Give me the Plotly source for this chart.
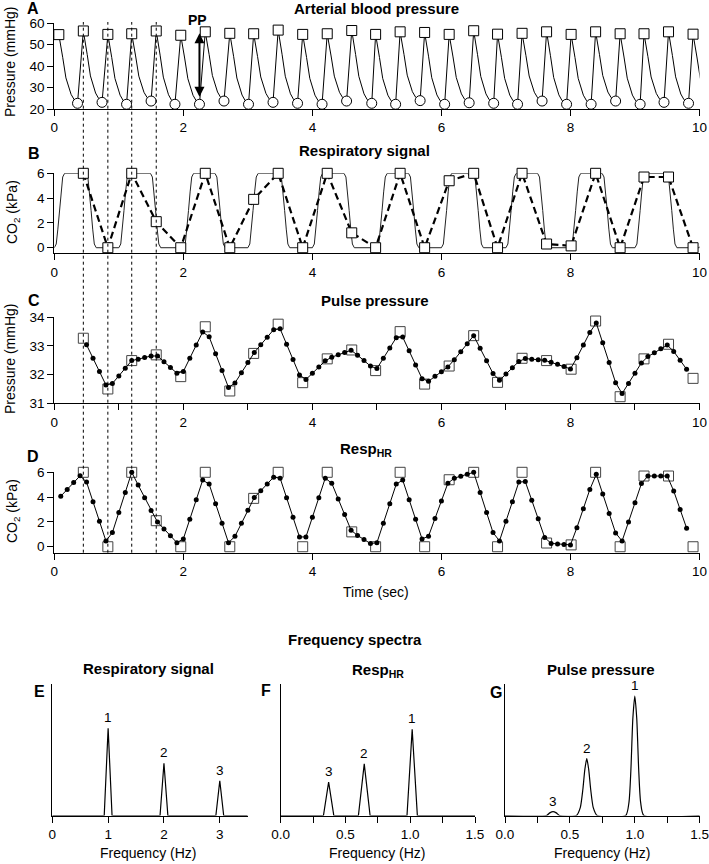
import plotly.graph_objects as go

W, H = 709, 864

# ---- heart beats: peak times (s), systolic peaks and diastolic troughs (mmHg) ----
BEAT_T = [0.07, 0.45, 0.83, 1.20, 1.58, 1.96, 2.34, 2.72, 3.09, 3.47, 3.85, 4.23, 4.61,
          4.98, 5.36, 5.74, 6.12, 6.50, 6.87, 7.25, 7.63, 8.01, 8.39, 8.77, 9.14, 9.52, 9.90]
SYS = [54.6, 56.3, 54.7, 55.0, 56.3, 54.3, 55.9, 55.2, 55.0, 56.7, 54.7, 55.0, 56.5,
       54.7, 55.9, 55.6, 54.7, 56.4, 54.8, 55.2, 55.9, 54.7, 55.9, 55.0, 55.0, 55.9, 54.8]
TROUGH_T = [0.36, 0.74, 1.12, 1.50, 1.87, 2.25, 2.63, 3.01, 3.39, 3.77, 4.15, 4.53, 4.92,
            5.29, 5.67, 6.05, 6.43, 6.81, 7.18, 7.56, 7.94, 8.32, 8.70, 9.08, 9.45, 9.83]
DIA = [22.65, 23.1, 22.2, 23.7, 22.2, 22.2, 23.7, 22.2, 23.1, 22.65, 22.2, 23.7, 22.65,
       22.2, 23.9, 22.2, 22.9, 22.65, 22.2, 23.7, 22.2, 22.2, 23.7, 22.2, 23.1, 22.65]
# shape of the pressure fall after a peak: s after peak, fraction of (peak - trough)
FALL_DT = [0.0, 0.03, 0.06, 0.11, 0.15, 0.19, 0.24]
FALL_FR = [1.0, 0.86, 0.67, 0.37, 0.23, 0.13, 0.05]

# ---- respiratory CO2 (kPa): one breath (s from breath start), one breath per second ----
BREATH_DT = [0.00, 0.03, 0.055, 0.08, 0.105, 0.13, 0.16, 0.49, 0.52, 0.545, 0.57, 0.595, 0.62, 0.65]
BREATH_CO2 = [0.0, 0.3, 1.5, 3.0, 4.5, 5.7, 6.0, 6.0, 5.7, 4.5, 3.0, 1.5, 0.3, 0.0]
N_BREATHS = 11

# values picked at beats 1..26
CO2_AT_BEAT = [6, 0, 6, 2.1, 0, 6, 0, 3.9, 6, 0, 6, 1.2, 0, 6, 0, 5.4, 6, 0, 6, 0.3, 0.15,
               6, 0, 5.7, 5.7, 0]
PP_AT_BEAT = [33.27, 31.5, 32.49, 32.69, 31.93, 33.67, 31.43, 32.74, 33.76, 31.72, 32.55,
              32.86, 32.14, 33.5, 31.67, 32.3, 33.36, 31.73, 32.57, 32.49, 32.19, 33.87,
              31.23, 32.55, 33.06, 31.87]

# 10 Hz resampled series
PP_T0 = 0.5
PP_10HZ = [33.04, 32.57, 32.11, 31.64, 31.69, 31.95, 32.22, 32.49, 32.54, 32.60, 32.65,
           32.65, 32.45, 32.25, 32.05, 32.11, 32.57, 33.03, 33.49, 33.32, 32.73, 32.14, 31.55,
           31.71, 32.07, 32.42, 32.77, 33.04, 33.30, 33.57, 33.60, 33.06, 32.53, 31.99,
           31.83, 32.05, 32.27, 32.48, 32.61, 32.69, 32.77, 32.85, 32.68, 32.49, 32.30,
           32.21, 32.57, 32.93, 33.29, 33.31, 32.83, 32.34, 31.86, 31.77, 31.94, 32.10, 32.27,
           32.52, 32.80, 33.08, 33.36, 32.92, 32.48, 32.04, 31.80, 32.02, 32.24, 32.46,
           32.56, 32.54, 32.52, 32.50, 32.43, 32.36, 32.28, 32.20, 32.59, 33.03, 33.47,
           33.80, 33.11, 32.42, 31.72, 31.34, 31.69, 32.05, 32.41, 32.63, 32.76, 32.90, 33.03,
           32.81, 32.50, 32.19]
HR_T0 = 0.1
RESP_HR_10HZ = [4.07, 4.62, 5.17, 5.72, 5.21, 3.63, 2.05, 0.47, 1.14, 2.76, 4.38, 6.0,
                4.97, 3.95, 2.92, 1.99, 1.44, 0.88, 0.33, 0.63, 2.21, 3.79, 5.37, 5.05, 3.47,
                1.89, 0.32, 0.84, 1.90, 2.95, 3.96, 4.51, 5.06, 5.61, 5.53, 3.95, 2.37, 0.79,
                0.79, 2.37, 3.95, 5.53, 5.12, 3.85, 2.59, 1.33, 0.91, 0.58, 0.26, 0.32, 1.89,
                3.47, 5.05, 5.37, 3.79, 2.21, 0.63, 0.85, 2.27, 3.69, 5.12, 5.53, 5.68, 5.84,
                6.0, 4.38, 2.76, 1.14, 0.47, 2.05, 3.63, 5.21, 5.25, 3.75, 2.25, 0.75, 0.27,
                0.23, 0.19, 0.15, 1.54, 3.07, 4.61, 5.84, 4.26, 2.68, 1.11, 0.46, 2.00, 3.54,
                5.09, 5.7, 5.7, 5.7, 5.7, 4.5, 3.0, 1.5]

# ---- frequency spectra (relative power) ----
E_F = [0, 0.93, 1.0, 1.07, 1.93, 2.0, 2.07, 2.93, 3.0, 3.07, 3.5]
E_P = [0, 0, 0.665, 0, 0, 0.398, 0, 0, 0.265, 0, 0]
F_F = [0, 0.33, 0.37, 0.41, 0.60, 0.645, 0.69, 0.975, 1.015, 1.055, 1.5]
F_P = [0, 0, 0.255, 0, 0, 0.393, 0, 0, 0.657, 0, 0]
G_F = [0, 0.32, 0.345, 0.37, 0.395, 0.42, 0.55, 0.58, 0.60, 0.615, 0.63, 0.645, 0.66, 0.68,
       0.71, 0.93, 0.955, 0.97, 0.985, 1.0, 1.015, 1.03, 1.045, 1.07, 1.5]
G_P = [0, 0, 0.02, 0.03, 0.02, 0, 0, 0.06, 0.2, 0.35, 0.433, 0.35, 0.2, 0.06, 0, 0, 0.1,
       0.35, 0.74, 0.911, 0.74, 0.35, 0.1, 0, 0]
E_PEAKS = [(1.0, 0.665, "1"), (2.0, 0.398, "2"), (3.0, 0.265, "3")]
F_PEAKS = [(1.015, 0.657, "1"), (0.645, 0.393, "2"), (0.37, 0.255, "3")]
G_PEAKS = [(1.0, 0.911, "1"), (0.63, 0.433, "2"), (0.37, 0.03, "3")]

# ---------- build the arterial pressure trace ----------
abp_x, abp_y = [], []
for k, (t, s) in enumerate(zip(BEAT_T, SYS)):
    d = DIA[k] if k < len(DIA) else DIA[-1]
    for dt, fr in zip(FALL_DT, FALL_FR):
        abp_x.append(t + dt)
        abp_y.append(d + fr * (s - d))
    if k < len(DIA):
        abp_x.append(TROUGH_T[k])
        abp_y.append(DIA[k])

resp_x, resp_y = [], []
for n in range(N_BREATHS):
    for dt, v in zip(BREATH_DT, BREATH_CO2):
        resp_x.append(n + dt)
        resp_y.append(v)

beat_t = BEAT_T[1:]
pp_t = [round(PP_T0 + 0.1 * i, 2) for i in range(len(PP_10HZ))]
hr_t = [round(HR_T0 + 0.1 * i, 2) for i in range(len(RESP_HR_10HZ))]

SQ = dict(symbol="square", size=10, color="white", line=dict(color="black", width=1))
SQG = dict(symbol="square", size=10, color="white", line=dict(color="#444", width=1))
CI = dict(symbol="circle", size=10, color="white", line=dict(color="black", width=1))
DOT = dict(symbol="circle", size=5, color="black")

fig = go.Figure()
# A
fig.add_trace(go.Scatter(x=abp_x, y=abp_y, mode="lines", line=dict(color="black", width=1),
                         xaxis="x", yaxis="y"))
fig.add_trace(go.Scatter(x=BEAT_T, y=SYS, mode="markers", marker=SQ, cliponaxis=False,
                         xaxis="x", yaxis="y"))
fig.add_trace(go.Scatter(x=TROUGH_T, y=DIA, mode="markers", marker=CI, cliponaxis=False,
                         xaxis="x", yaxis="y"))
# B
fig.add_trace(go.Scatter(x=resp_x, y=resp_y, mode="lines", line=dict(color="#222", width=1),
                         xaxis="x2", yaxis="y2"))
fig.add_trace(go.Scatter(x=beat_t, y=CO2_AT_BEAT, mode="lines+markers",
                         line=dict(color="black", width=2.2, dash="7px,4px"), marker=SQ,
                         cliponaxis=False, xaxis="x2", yaxis="y2"))
# C
fig.add_trace(go.Scatter(x=beat_t, y=PP_AT_BEAT, mode="markers", marker=SQG, cliponaxis=False,
                         xaxis="x3", yaxis="y3"))
fig.add_trace(go.Scatter(x=pp_t, y=PP_10HZ, mode="lines+markers", line=dict(color="black", width=1),
                         marker=DOT, cliponaxis=False, xaxis="x3", yaxis="y3"))
# D
fig.add_trace(go.Scatter(x=beat_t, y=CO2_AT_BEAT, mode="markers", marker=SQG, cliponaxis=False,
                         xaxis="x4", yaxis="y4"))
fig.add_trace(go.Scatter(x=hr_t, y=RESP_HR_10HZ, mode="lines+markers",
                         line=dict(color="black", width=1), marker=DOT, cliponaxis=False,
                         xaxis="x4", yaxis="y4"))
# E, F, G
fig.add_trace(go.Scatter(x=E_F, y=E_P, mode="lines", line=dict(color="black", width=1.2),
                         xaxis="x5", yaxis="y5"))
fig.add_trace(go.Scatter(x=F_F, y=F_P, mode="lines", line=dict(color="black", width=1.2),
                         xaxis="x6", yaxis="y6"))
fig.add_trace(go.Scatter(x=G_F, y=G_P, mode="lines", line=dict(color="black", width=1.2, shape="spline",
                         smoothing=0.6), xaxis="x7", yaxis="y7"))


def xd(a, b):
    return [a / W, b / W]


def yd(bottom, top):
    return [1 - bottom / H, 1 - top / H]


AX = dict(showline=True, linecolor="black", linewidth=1, ticks="outside", ticklen=6,
          tickwidth=1, tickcolor="black", showgrid=False, zeroline=False, automargin=False,
          ticklabeloverflow="allow", tickfont=dict(size=13.5), fixedrange=True)
YSPEC = dict(showline=True, linecolor="black", linewidth=1, showgrid=False, zeroline=False,
             automargin=False, showticklabels=False, ticks="", range=[0, 1],
             domain=yd(815.5, 684.3), fixedrange=True)
XT = xd(54.3, 699.5)
TT = [0, 2, 4, 6, 8, 10]
HZ = dict(tickvals=[0, 0.5, 1.0, 1.5], ticktext=["0.0", "0.5", "1.0", "1.5"],
          minor=dict(tickvals=[0.25, 0.75, 1.25], ticks="outside", ticklen=6, tickcolor="black"))

fig.update_layout(
    xaxis=dict(AX, domain=XT, range=[0, 10], tickvals=TT, anchor="y"),
    yaxis=dict(AX, domain=yd(109, 23), range=[20, 60], tickvals=[20, 30, 40, 50, 60], anchor="x"),
    xaxis2=dict(AX, domain=XT, range=[0, 10], tickvals=TT, anchor="y2"),
    yaxis2=dict(AX, domain=yd(253.3, 173.3), range=[-0.45, 6], tickvals=[0, 2, 4, 6], anchor="x2"),
    xaxis3=dict(AX, domain=XT, range=[0, 10], tickvals=TT, anchor="y3",
                minor=dict(tickvals=[1, 3, 5, 7, 9], ticks="outside", ticklen=6, tickcolor="black")),
    yaxis3=dict(AX, domain=yd(403.3, 317.3), range=[31, 34], tickvals=[31, 32, 33, 34], anchor="x3"),
    xaxis4=dict(AX, domain=XT, range=[0, 10], tickvals=TT, anchor="y4"),
    yaxis4=dict(AX, domain=yd(552.7, 472.3), range=[-0.48, 6], tickvals=[0, 2, 4, 6], anchor="x4"),
    xaxis5=dict(AX, domain=xd(52.3, 247.7), range=[0, 3.5], tickvals=[0, 1, 2, 3], anchor="y5"),
    yaxis5=dict(YSPEC, anchor="x5"),
    xaxis6=dict(AX, domain=xd(280.7, 475), range=[0, 1.5], anchor="y6", **HZ),
    yaxis6=dict(YSPEC, anchor="x6"),
    xaxis7=dict(AX, domain=xd(505, 699.7), range=[0, 1.5], anchor="y7", **HZ),
    yaxis7=dict(YSPEC, anchor="x7"),
)


def note(text, x, y, size=14, bold=False, angle=0):
    return dict(text=f"<b>{text}</b>" if bold else text, x=x / W, y=1 - y / H,
                xref="paper", yref="paper", showarrow=False, font=dict(size=size),
                textangle=angle, xanchor="center", yanchor="middle")


ann = [
    note("Arterial blood pressure", 377, 8, 15, True),
    note("Respiratory signal", 364, 150, 15, True),
    note("Pulse pressure", 375, 300, 15, True),
    note("Resp<sub>HR</sub>", 366, 449, 15, True),
    note("A", 33, 9, 16, True), note("B", 34, 154, 16, True),
    note("C", 34, 300, 16, True), note("D", 33, 456, 16, True),
    note("E", 39, 691, 16, True), note("F", 266, 690, 16, True), note("G", 496, 692, 16, True),
    note("Pressure (mmHg)", 10, 62, 14, angle=-90),
    note("CO<sub>2</sub> (kPa)", 13, 212, 14, angle=-90),
    note("Pressure (mmHg)", 10, 359, 14, angle=-90),
    note("CO<sub>2</sub> (kPa)", 13, 511, 14, angle=-90),
    note("Time (sec)", 376, 592, 14),
    note("Frequency spectra", 355, 639, 15, True),
    note("Respiratory signal", 148, 668, 15, True),
    note("Resp<sub>HR</sub>", 378, 670, 15, True),
    note("Pulse pressure", 601, 669, 15, True),
    note("Frequency (Hz)", 148, 853, 14),
    note("Frequency (Hz)", 377, 853, 14),
    note("Frequency (Hz)", 602, 853, 14),
    note("PP", 197, 20, 14, True),
    # PP double arrow
    dict(x=2.25, y=55.2, ax=2.25, ay=25.0, xref="x", yref="y", axref="x", ayref="y", text="",
         showarrow=True, arrowhead=2, startarrowhead=2, arrowside="end+start", arrowwidth=2,
         arrowsize=1, arrowcolor="black"),
]
for axn, peaks in (("5", E_PEAKS), ("6", F_PEAKS), ("7", G_PEAKS)):
    for f, p, lab in peaks:
        ann.append(dict(x=f, y=p, xref="x" + axn, yref="y" + axn, text=lab, showarrow=False,
                        yanchor="bottom", yshift=1, font=dict(size=13.5)))

shapes = [dict(type="line", xref="x4", yref="paper", x0=t, x1=t, y0=1 - 552.7 / H, y1=1 - 22 / H,
               line=dict(color="black", width=1, dash="dot")) for t in BEAT_T[1:5]]

fig.update_layout(
    template="none",
    width=W, height=H, margin=dict(l=0, r=0, t=0, b=0, autoexpand=False),
    paper_bgcolor="white", plot_bgcolor="white", showlegend=False,
    font=dict(family="Liberation Sans, Arial, sans-serif", color="black", size=14),
    annotations=ann, shapes=shapes,
)

fig.write_html("out.html", config={"displayModeBar": False},
               post_script="document.body.style.margin='0';")
